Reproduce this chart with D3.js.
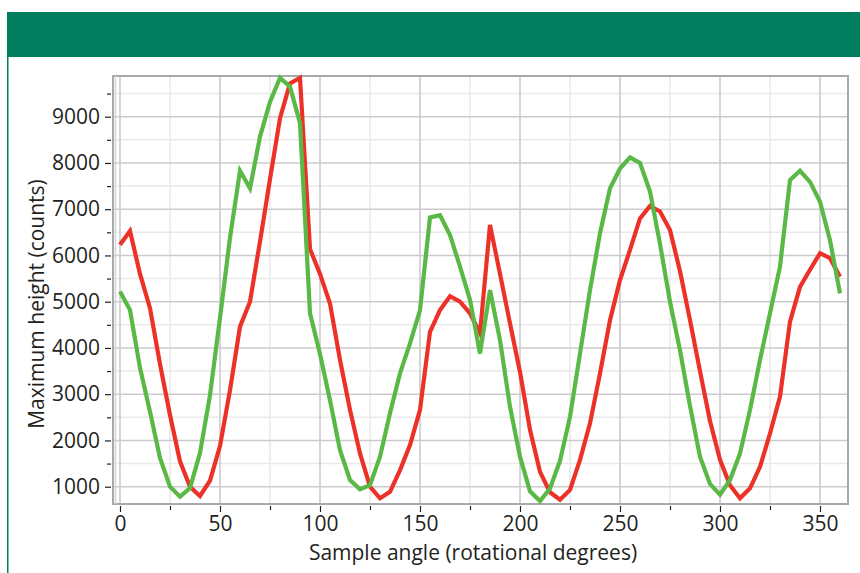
<!DOCTYPE html>
<html>
<head>
<meta charset="utf-8">
<script src="https://cdn.jsdelivr.net/npm/d3@7"></script>
<style>
  body { margin: 0; background: #fff; }
  svg { display: block; }
</style>
</head>
<body>
<svg></svg>
<script>
// sample angle, every 5 degrees
var angles = d3.range(0, 365, 5);

// red trace
var redCounts = [6230, 6530, 5600, 4860, 3650, 2550, 1550, 1000, 800, 1130,
  1880, 3090, 4460, 5000, 6300, 7650, 8970, 9720, 9840, 6140,
  5600, 4960, 3740, 2660, 1720, 1000, 750, 890, 1360, 1900,
  2660, 4350, 4820, 5120, 5000, 4750, 4320, 6660, 5600, 4530,
  3480, 2230, 1320, 880, 720, 930, 1580, 2370, 3450, 4600,
  5470, 6120, 6800, 7070, 6950, 6550, 5660, 4600, 3500, 2420,
  1580, 1030, 750, 965, 1430, 2150, 2950, 4570, 5320, 5690,
  6050, 5940, 5540];

// green trace
var greenCounts = [5220, 4820, 3570, 2620, 1620, 1000, 785, 970, 1730, 2980,
  4650, 6380, 7830, 7450, 8570, 9320, 9840, 9650, 8860, 4750,
  3870, 2870, 1790, 1145, 945, 1035, 1650, 2590, 3450, 4100,
  4820, 6820, 6870, 6440, 5760, 5040, 3880, 5250, 4170, 2730,
  1650, 900, 690, 960, 1560, 2510, 3880, 5250, 6480, 7450,
  7880, 8120, 8000, 7380, 6250, 5000, 3950, 2750, 1650, 1060,
  830, 1145, 1720, 2660, 3740, 4750, 5760, 7630, 7830, 7590,
  7160, 6330, 5180];

var xTicks = [0, 50, 100, 150, 200, 250, 300, 350];
var xMinor = [25, 75, 125, 175, 225, 275, 325];
var yTicks = [1000, 2000, 3000, 4000, 5000, 6000, 7000, 8000, 9000];
var yMinor = [1500, 2500, 3500, 4500, 5500, 6500, 7500, 8500, 9500];

var width = 860;
var height = 573;
var plot = {left: 113, right: 848, top: 76, bottom: 504};
var font = "'Open Sans', 'Noto Sans', sans-serif";
var ink = "#231f20";

var svg = d3.select("svg")
            .attr("width", width)
            .attr("height", height);

// green banner and left rule
svg.append("rect")
  .attr("x", 7).attr("y", 12)
  .attr("width", width - 7).attr("height", 45)
  .attr("fill", "#007e5d");
svg.append("rect")
  .attr("x", 7).attr("y", 57)
  .attr("width", 1.5).attr("height", height - 57)
  .attr("fill", "#007e5d");

var x = d3.scaleLinear()
          .domain([-3.5, 364])
          .range([plot.left, plot.right]);

var y = d3.scaleLinear()
          .domain([626, 9880])
          .range([plot.bottom, plot.top]);

var grid = svg.append("g");

// minor grid
grid.selectAll("line.vmin")
  .data(xMinor).enter().append("line")
    .attr("x1", d => x(d)).attr("x2", d => x(d))
    .attr("y1", plot.top).attr("y2", plot.bottom)
    .attr("stroke", "#e9e9e9").attr("stroke-width", 1.5);
grid.selectAll("line.hmin")
  .data(yMinor).enter().append("line")
    .attr("x1", plot.left).attr("x2", plot.right)
    .attr("y1", d => y(d)).attr("y2", d => y(d))
    .attr("stroke", "#e9e9e9").attr("stroke-width", 1.5);

// major grid
grid.selectAll("line.vmaj")
  .data(xTicks).enter().append("line")
    .attr("x1", d => x(d)).attr("x2", d => x(d))
    .attr("y1", plot.top).attr("y2", plot.bottom)
    .attr("stroke", "#cbcbcd").attr("stroke-width", 1.6);
grid.selectAll("line.hmaj")
  .data(yTicks).enter().append("line")
    .attr("x1", plot.left).attr("x2", plot.right)
    .attr("y1", d => y(d)).attr("y2", d => y(d))
    .attr("stroke", "#cbcbcd").attr("stroke-width", 1.6);

// frame
svg.append("rect")
  .attr("x", plot.left).attr("y", plot.top)
  .attr("width", plot.right - plot.left)
  .attr("height", plot.bottom - plot.top)
  .attr("fill", "none")
  .attr("stroke", "#a7a9ac").attr("stroke-width", 2);
svg.append("line")
  .attr("x1", plot.left + 2.5).attr("x2", plot.left + 2.5)
  .attr("y1", plot.top).attr("y2", plot.bottom)
  .attr("stroke", "#d4d5d7").attr("stroke-width", 1.5);

// axes
var xAxis = svg.append("g")
  .attr("transform", `translate(0,${plot.bottom + 2})`)
  .call(d3.axisBottom(x).tickValues(xTicks).tickSize(6).tickPadding(4).tickFormat(d3.format("d")));
svg.append("g")
  .attr("transform", `translate(0,${plot.bottom + 2})`)
  .call(d3.axisBottom(x).tickValues(xMinor).tickSize(4).tickFormat(""));

var yAxis = svg.append("g")
  .attr("transform", `translate(${plot.left - 2},0)`)
  .call(d3.axisLeft(y).tickValues(yTicks).tickSize(6).tickPadding(5).tickFormat(d3.format("d")));
svg.append("g")
  .attr("transform", `translate(${plot.left - 2},0)`)
  .call(d3.axisLeft(y).tickValues(yMinor).tickSize(4).tickFormat(""));

svg.selectAll(".domain").remove();
svg.selectAll(".tick line")
  .attr("stroke", ink).attr("stroke-width", 1.2);
svg.selectAll(".tick text")
  .attr("fill", ink)
  .style("font-family", font)
  .style("font-size", "21px");
xAxis.selectAll("text").attr("dy", "0.72em");

// lines
var line = d3.line()
  .x((d, i) => x(angles[i]))
  .y(d => y(d));

svg.append("path")
  .datum(redCounts)
  .attr("d", line)
  .attr("fill", "none")
  .attr("stroke", "#ec3129")
  .attr("stroke-width", 4.2);

svg.append("path")
  .datum(greenCounts)
  .attr("d", line)
  .attr("fill", "none")
  .attr("stroke", "#5ab946")
  .attr("stroke-width", 4.2);

// axis titles
svg.append("text")
  .attr("x", 473).attr("y", 560)
  .attr("text-anchor", "middle")
  .attr("fill", ink)
  .style("font-family", font)
  .style("font-size", "21px")
  .text("Sample angle (rotational degrees)");

svg.append("text")
  .attr("transform", "translate(44,304) rotate(-90)")
  .attr("text-anchor", "middle")
  .attr("fill", ink)
  .style("font-family", font)
  .style("font-size", "21px")
  .text("Maximum height (counts)");
</script>
</body>
</html>
